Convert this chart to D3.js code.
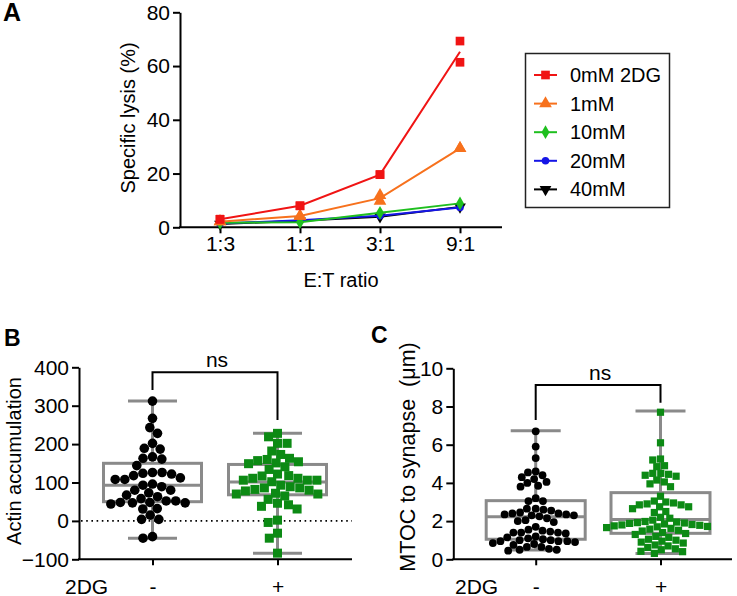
<!DOCTYPE html>
<html><head><meta charset="utf-8">
<script src="https://cdn.jsdelivr.net/npm/d3@7"></script>
<style>
body{margin:0;background:#fff;}
svg text{font-family:"Liberation Sans",Arial,Helvetica,sans-serif;fill:#000;white-space:pre;}
</style></head>
<body><svg id="c" width="737" height="596"></svg>
<script>
// ---------- DATA ----------
const ratios = ["1:3","1:1","3:1","9:1"];
const seriesNames = ["0mM 2DG","1mM","10mM","20mM","40mM"];
const lysis0_rep1 = [3.0, 8.0, 19.6, 69.3];
const lysis0_rep2 = [3.0, 8.0, 19.6, 61.4];
const lysis1_rep1 = [2.1, 4.2, 9.8, 29.4];
const lysis1_rep2 = [2.1, 4.2, 11.9, 29.4];
const lysis10 = [1.7, 1.9, 5.4, 8.9];
const lysis20 = [1.4, 2.6, 4.3, 7.4];
const lysis40 = [1.2, 2.4, 3.9, 7.6];
const lysisTicks = [0,20,40,60,80];

const groups = ["-","+"];
const actinMinus = [312,267,243,228,202,189,187,167,161,163,144,126,122,118,124,126,108,112,108,96,89,93,80,73,63,58,67,80,52,48,44,52,47,47,48,31,32,15,4,4,-45,-41];
const actinPlus = [228,219,202,202,182,163,157,151,141,149,134,154,160,173,122,118,111,106,102,111,106,106,117,86,82,78,70,65,70,72,80,86,89,93,46,38,31,42,56,-4,2,-32,-45,-84];
// box stats: min, q1, median, q3, max
const actinBoxMinus = [-45, 50, 93, 150, 312];
const actinBoxPlus = [-84, 68, 101, 147, 228];
const actinTicks = [-100,0,100,200,300,400];

const mtocMinus = [6.7,5.9,5.3,4.6,4.55,4.4,4.3,4.2,4.05,4.0,3.85,3.8,3.2,3.05,3.05,2.65,2.65,2.6,2.55,2.45,2.4,2.4,2.35,2.35,2.3,2.3,2.25,2.15,2.05,2.0,1.95,1.7,1.55,1.5,1.45,1.4,1.4,1.4,1.35,1.2,1.15,1.1,1.05,1.0,1.0,0.95,0.95,0.95,0.9,0.85,0.8,0.75,0.65,0.65,0.55,0.5,0.5,0.45];
const mtocPlus = [7.7,6.1,5.25,5.2,4.9,4.85,4.5,4.5,4.45,4.4,4.35,4.15,4.05,3.95,3.8,3.3,3.05,3.0,2.95,2.9,2.85,2.85,2.75,2.75,2.65,2.5,2.45,2.2,2.15,2.05,1.98,1.95,1.92,1.9,1.88,1.85,1.82,1.8,1.78,1.75,1.72,1.7,1.66,1.62,1.58,1.52,1.48,1.4,1.35,1.3,1.2,1.15,1.05,1.0,0.95,0.9,0.85,0.75,0.7,0.62,0.55,0.5,0.42,0.4,0.31];
const mtocBoxMinus = [0.49, 1.05, 2.23, 3.07, 6.73];
const mtocBoxPlus = [0.31, 1.36, 2.09, 3.49, 7.76];
const mtocTicks = [0,2,4,6,8,10];

// ---------- HELPERS ----------
const svg = d3.select("#c");
const FS = 21;
const colors = ["#f01414","#f7711d","#1fbf1f","#1515e6","#000000"];
const boxGray = "#8a8a8a";
const green = "#0c8a14";

function styleAxis(g){
  g.selectAll("path,line").attr("stroke","#000").attr("stroke-width",2);
  g.selectAll("text").attr("font-size",FS);
}
function mean(a){return d3.mean(a);}

// ---------- PANEL A ----------
const xA = d3.scalePoint().domain(ratios).range([220, 460]);
const yA = d3.scaleLinear().domain([0,80]).range([227.3, 12.3]);
const gA = svg.append("g");
gA.append("g").attr("transform","translate(180,0)")
  .call(d3.axisLeft(yA).tickValues(lysisTicks).tickSize(7).tickPadding(3).tickSizeOuter(0))
  .call(styleAxis);
const axA = gA.append("g").attr("transform","translate(0,227.3)")
  .call(d3.axisBottom(xA).tickSize(6).tickPadding(3))
  .call(styleAxis);
axA.select(".domain").remove();
gA.append("line").attr("x1",179).attr("x2",502).attr("y1",227.3).attr("y2",227.3).attr("stroke","#000").attr("stroke-width",2);
gA.append("text").attr("transform","translate(135,118) rotate(-90)").attr("text-anchor","middle").attr("font-size",20).text("Specific lysis (%)");
gA.append("text").attr("x",341).attr("y",287).attr("text-anchor","middle").attr("font-size",20).text("E:T ratio");
gA.append("text").attr("x",3).attr("y",21).attr("font-size",25).attr("font-weight","bold").text("A");

const seriesReps = [
  [lysis0_rep1, lysis0_rep2],
  [lysis1_rep1, lysis1_rep2],
  [lysis10],[lysis20],[lysis40]
];
const symbols = [d3.symbolSquare, d3.symbolTriangle, d3.symbolDiamond, d3.symbolCircle, d3.symbolTriangle];
const symSizes = [75, 70, 55, 45, 60];
const symRot = [0,0,0,0,180];
const lineA = d3.line().x((d,i)=>xA(ratios[i])).y(d=>yA(d));
for (let s = seriesReps.length-1; s >= 0; s--) {
  const reps = seriesReps[s];
  const means = ratios.map((r,i)=>mean(reps.map(rp=>rp[i])));
  gA.append("path").attr("d", lineA(means)).attr("fill","none").attr("stroke",colors[s]).attr("stroke-width",2);
  reps.forEach(rp=>{
    rp.forEach((v,i)=>{
      gA.append("path").attr("d", d3.symbol(symbols[s], symSizes[s])())
        .attr("transform",`translate(${xA(ratios[i])},${yA(v)}) rotate(${symRot[s]})`)
        .attr("fill",colors[s]);
    });
  });
}
// legend
const lg = svg.append("g");
lg.append("rect").attr("x",525.5).attr("y",53.5).attr("width",144).attr("height",154).attr("fill","none").attr("stroke","#222").attr("stroke-width",1.5);
seriesNames.forEach((n,i)=>{
  const yy = 75 + i*28.6;
  lg.append("line").attr("x1",534).attr("x2",557).attr("y1",yy).attr("y2",yy).attr("stroke",colors[i]).attr("stroke-width",2);
  lg.append("path").attr("d", d3.symbol(symbols[i], symSizes[i])()).attr("transform",`translate(545.5,${yy}) rotate(${symRot[i]})`).attr("fill",colors[i]);
  lg.append("text").attr("x",570).attr("y",yy+7).attr("font-size",20).text(n);
});

// ---------- BEESWARM ----------
function swarm(values, y, cx, diam){
  const pts = values.map(v=>({v, y:y(v)})).sort((a,b)=>a.y-b.y);
  const placed = [];
  for (const p of pts){
    const ints = [];
    for (const q of placed){
      const dy = Math.abs(q.y-p.y);
      if (dy < diam){ const dx = Math.sqrt(diam*diam-dy*dy); ints.push([q.x-dx, q.x+dx]); }
    }
    const cands = [0]; ints.forEach(([a,b])=>cands.push(a,b));
    cands.sort((a,b)=>Math.abs(a)-Math.abs(b));
    for (const c of cands){
      if (ints.every(([a,b])=> c <= a+1e-6 || c >= b-1e-6)){ p.x = c; break; }
    }
    placed.push(p);
  }
  pts.forEach(p=>p.x += cx);
  return pts;
}

function boxPanel(opts){
  const g = svg.append("g");
  const {x0,x1,yTop,yBot,domain,ticks,cats,label,labelX,labelY,labelFS,dgX,dataSets,boxes,boxHalf,capHalf,diam,sq,panel,panelX,panelY,bracket,zeroLine} = opts;
  const y = d3.scaleLinear().domain(domain).range([yBot,yTop]);
  const x = d3.scalePoint().domain(groups).range(cats);
  g.append("g").attr("transform",`translate(${x0},0)`)
    .call(d3.axisLeft(y).tickValues(ticks).tickSize(7).tickPadding(3).tickSizeOuter(0))
    .call(styleAxis);
  const ax = g.append("g").attr("transform",`translate(0,${yBot})`)
    .call(d3.axisBottom(x).tickSize(6).tickPadding(14))
    .call(styleAxis);
  ax.select(".domain").remove();
  g.append("line").attr("x1",x0-1).attr("x2",x1).attr("y1",yBot).attr("y2",yBot).attr("stroke","#000").attr("stroke-width",2);
  g.append("text").attr("x",dgX).attr("y",593.5).attr("font-size",FS).text("2DG");
  g.append("text").attr("transform",`translate(${labelX},${labelY}) rotate(-90)`).attr("text-anchor","middle").attr("font-size",labelFS).text(label);
  g.append("text").attr("x",panelX).attr("y",panelY).attr("font-size",23).attr("font-weight","bold").text(panel);
  if (zeroLine){
    g.append("line").attr("x1",x0+2).attr("x2",x1).attr("y1",y(0)).attr("y2",y(0)).attr("stroke","#000").attr("stroke-width",1.8).attr("stroke-dasharray","1.6,3.6");
  }
  // boxes
  groups.forEach((gr,i)=>{
    const [mn,q1,md,q3,mx] = boxes[i];
    const cx = x(gr);
    const bg = g.append("g").attr("stroke",boxGray).attr("stroke-width",3).attr("fill","none");
    bg.append("line").attr("x1",cx).attr("x2",cx).attr("y1",y(mx)).attr("y2",y(q3));
    bg.append("line").attr("x1",cx).attr("x2",cx).attr("y1",y(q1)).attr("y2",y(mn));
    bg.append("line").attr("x1",cx-capHalf).attr("x2",cx+capHalf).attr("y1",y(mx)).attr("y2",y(mx));
    bg.append("line").attr("x1",cx-capHalf).attr("x2",cx+capHalf).attr("y1",y(mn)).attr("y2",y(mn));
    bg.append("rect").attr("x",cx-boxHalf).attr("y",y(q3)).attr("width",2*boxHalf).attr("height",y(q1)-y(q3));
    bg.append("line").attr("x1",cx-boxHalf).attr("x2",cx+boxHalf).attr("y1",y(md)).attr("y2",y(md));
  });
  // points
  groups.forEach((gr,i)=>{
    const pts = swarm(dataSets[i], y, x(gr), diam);
    if (i===0){
      g.selectAll(null).data(pts).enter().append("circle").attr("cx",d=>d.x).attr("cy",d=>d.y).attr("r",diam/2).attr("fill","#000");
    } else {
      g.selectAll(null).data(pts).enter().append("rect").attr("x",d=>d.x-sq/2).attr("y",d=>d.y-sq/2).attr("width",sq).attr("height",sq).attr("fill",green);
    }
  });
  // bracket
  const [hy, ly, ry] = bracket;
  g.append("path").attr("d",`M${x("-")},${ly}V${hy}H${x("+")}V${ry}`).attr("fill","none").attr("stroke","#000").attr("stroke-width",2);
  g.append("text").attr("x",(x("-")+x("+"))/2+2).attr("y",hy-5).attr("text-anchor","middle").attr("font-size",FS).text("ns");
}

boxPanel({x0:79,x1:352,yTop:367.3,yBot:559.3,domain:[-100,400],ticks:actinTicks,cats:[152.5,277.5],
  label:"Actin accumulation",labelX:21,labelY:461,labelFS:20,dgX:65,dataSets:[actinMinus,actinPlus],boxes:[actinBoxMinus,actinBoxPlus],
  boxHalf:49,capHalf:24.5,diam:9.6,sq:9,panel:"B",panelX:4,panelY:346,bracket:[372.3,390,420],zeroLine:true});

boxPanel({x0:453.3,x1:732,yTop:368.3,yBot:559.3,domain:[0,10],ticks:mtocTicks,cats:[535.7,660.5],
  label:"MTOC to synapse  (\u03bcm)",labelX:415,labelY:457,labelFS:21.5,dgX:455,dataSets:[mtocMinus,mtocPlus],boxes:[mtocBoxMinus,mtocBoxPlus],
  boxHalf:49.5,capHalf:25,diam:7.8,sq:7.2,panel:"C",panelX:371,panelY:343,bracket:[385,420,402.7],zeroLine:false});
</script></body></html>
